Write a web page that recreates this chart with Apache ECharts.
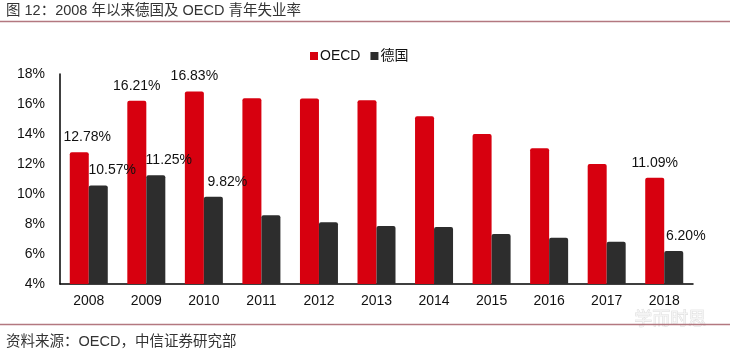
<!DOCTYPE html>
<html>
<head>
<meta charset="utf-8">
<style>
  html, body { margin: 0; padding: 0; background: #fff; }
  #chart { width: 730px; height: 349px; }
</style>
<script src="https://cdn.jsdelivr.net/npm/echarts@6/dist/echarts.min.js"></script>
</head>
<body>
<div id="chart"></div>
<script>
// Youth unemployment rate, Germany vs OECD, 2008-2018 (%)
const years = ['2008', '2009', '2010', '2011', '2012', '2013', '2014', '2015', '2016', '2017', '2018'];
const oecdRate = [12.78, 16.21, 16.83, 16.38, 16.36, 16.25, 15.18, 14.00, 13.05, 12.00, 11.09];
const germanyRate = [10.57, 11.25, 9.82, 8.58, 8.11, 7.87, 7.80, 7.33, 7.09, 6.82, 6.20];
const labeledYears = ['2008', '2009', '2010', '2018'];
// horizontal nudges for value labels, keyed by year
const oecdLabelShift = { '2008': 8 };
const germanyLabelShift = { '2008': 14, '2009': 13, '2010': 14, '2018': 12 };

const titleText = '图 12：2008 年以来德国及 OECD 青年失业率';
const sourceText = '资料来源：OECD，中信证券研究部';
const watermarkText = '学而时思';

const FONT = 'Arial, "Liberation Sans", "Noto Sans CJK SC", sans-serif';
const RED = '#d7000f';
const DARK = '#2d2d2d';
const RULE = '#b37880';

function buildData(values, shifts) {
  return values.map((v, i) => {
    const y = years[i];
    const show = labeledYears.indexOf(y) >= 0;
    return {
      value: v,
      label: {
        show: show,
        offset: [shifts[y] || 0, 0]
      }
    };
  });
}

const chart = echarts.init(document.getElementById('chart'), null, { renderer: 'canvas' });

chart.setOption({
  animation: false,
  backgroundColor: '#ffffff',
  textStyle: { fontFamily: FONT },
  grid: { left: 60, right: 37, top: 74, bottom: 65, containLabel: false },
  legend: {
    data: ['OECD', '德国'],
    left: 305,
    top: 44,
    itemWidth: 8,
    itemHeight: 8,
    itemGap: 10,
    icon: 'rect',
    textStyle: { fontSize: 14, color: '#111', fontFamily: FONT, padding: [0, 0, 0, -3] }
  },
  xAxis: {
    type: 'category',
    data: years,
    axisLine: { lineStyle: { color: '#000', width: 1.5 } },
    axisTick: { show: false },
    axisLabel: { fontSize: 14, color: '#111', margin: 10, fontFamily: FONT }
  },
  yAxis: {
    type: 'value',
    min: 4,
    max: 18,
    interval: 2,
    splitLine: { show: false },
    axisLine: { show: true, lineStyle: { color: '#000', width: 1.5 } },
    axisTick: { show: false },
    axisLabel: { fontSize: 14, color: '#111', margin: 15, formatter: '{value}%', fontFamily: FONT }
  },
  series: [
    {
      name: 'OECD',
      type: 'bar',
      barWidth: 19,
      barGap: '0%',
      itemStyle: { color: RED, borderRadius: [2, 2, 0, 0] },
      label: {
        position: 'top',
        distance: 8,
        fontSize: 14,
        color: '#111',
        fontFamily: FONT,
        formatter: p => p.value.toFixed(2) + '%'
      },
      data: buildData(oecdRate, oecdLabelShift)
    },
    {
      name: '德国',
      type: 'bar',
      barWidth: 19,
      barGap: '0%',
      itemStyle: { color: DARK, borderRadius: [2, 2, 0, 0] },
      label: {
        position: 'top',
        distance: 8,
        fontSize: 14,
        color: '#111',
        fontFamily: FONT,
        formatter: p => p.value.toFixed(2) + '%'
      },
      data: buildData(germanyRate, germanyLabelShift)
    }
  ],
  graphic: [
    {
      type: 'text',
      left: 6,
      top: 4,
      style: { text: titleText, fill: '#333', font: '14.5px ' + FONT }
    },
    {
      type: 'line',
      shape: { x1: 0, y1: 21.5, x2: 730, y2: 21.5 },
      style: { stroke: RULE, lineWidth: 1.5 }
    },
    {
      type: 'text',
      left: 634,
      top: 309,
      style: { text: watermarkText, font: '18px "Noto Sans CJK SC", sans-serif', fill: '#f4f4f4', stroke: '#d6d6d6', lineWidth: 0.7 }
    },
    {
      type: 'line',
      shape: { x1: 0, y1: 324.5, x2: 730, y2: 324.5 },
      style: { stroke: RULE, lineWidth: 1.5 }
    },
    {
      type: 'text',
      left: 6,
      top: 335,
      style: { text: sourceText, fill: '#333', font: '14.5px ' + FONT }
    }
  ]
});
</script>
</body>
</html>
